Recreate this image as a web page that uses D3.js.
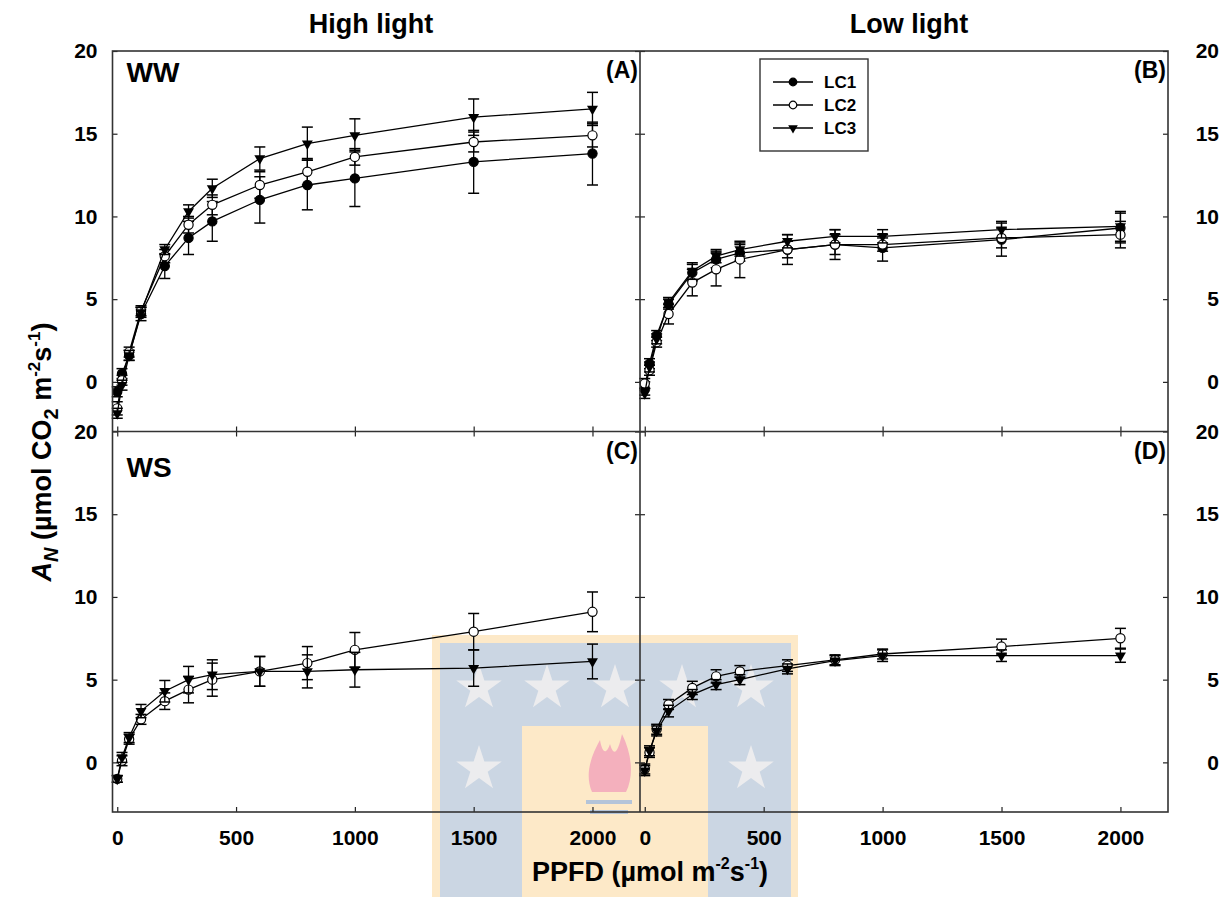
<!DOCTYPE html>
<html>
<head>
<meta charset="utf-8">
<script src="https://cdn.jsdelivr.net/npm/d3@7"></script>
<style>
  body { margin: 0; background: #fff; }
  svg { display: block; font-family: "Liberation Sans", Arial, sans-serif; font-weight: bold; }
</style>
</head>
<body>
<svg id="chart" width="1232" height="897"></svg>
<script>
"use strict";

// light levels (PPFD, umol m-2 s-1)
const ppfd = [0, 20, 50, 100, 200, 300, 400, 600, 800, 1000, 1500, 2000];
const xTicks = [0, 500, 1000, 1500, 2000];
const yTicks = [0, 5, 10, 15, 20];
const seriesNames = ["LC1", "LC2", "LC3"];

// (A) WW, high light
const wwHighLC1 = [-0.6, 0.5, 1.6, 4.1, 7.0, 8.7, 9.7, 11.0, 11.9, 12.3, 13.3, 13.8];
const wwHighLC1Err = [0.3, 0.3, 0.3, 0.4, 0.75, 1.0, 1.2, 1.4, 1.5, 1.7, 1.9, 1.9];
const wwHighLC2 = [-1.6, 0.1, 1.8, 4.3, 7.6, 9.5, 10.7, 11.9, 12.7, 13.6, 14.5, 14.9];
const wwHighLC2Err = [0.4, 0.3, 0.3, 0.3, 0.4, 0.5, 0.6, 0.8, 0.8, 0.5, 0.6, 0.7];
const wwHighLC3 = [-1.9, -0.2, 1.6, 4.2, 8.0, 10.3, 11.7, 13.5, 14.4, 14.9, 16.0, 16.5];
const wwHighLC3Err = [0.3, 0.3, 0.3, 0.3, 0.3, 0.4, 0.55, 0.7, 1.0, 1.0, 1.1, 1.0];

// (B) WW, low light
const wwLowLC1 = [-0.4, 1.1, 2.8, 4.7, 6.6, 7.4, 7.8, 8.0, 8.3, 8.1, 8.6, 9.3];
const wwLowLC1Err = [0.4, 0.3, 0.3, 0.3, 0.5, 0.5, 0.5, 0.5, 0.6, 0.8, 1.0, 0.9];
const wwLowLC2 = [-0.1, 0.7, 2.4, 4.1, 6.0, 6.8, 7.4, 8.0, 8.3, 8.3, 8.7, 8.9];
const wwLowLC2Err = [0.3, 0.3, 0.3, 0.6, 0.8, 1.0, 1.1, 0.9, 0.9, 0.4, 0.6, 0.8];
const wwLowLC3 = [-0.7, 0.9, 2.6, 4.8, 6.7, 7.6, 8.0, 8.5, 8.8, 8.8, 9.2, 9.4];
const wwLowLC3Err = [0.3, 0.3, 0.3, 0.3, 0.5, 0.4, 0.4, 0.4, 0.4, 0.4, 0.5, 0.9];

// (C) WS, high light
const wsHighLC2 = [-1.0, 0.1, 1.4, 2.6, 3.7, 4.4, 5.0, 5.5, 6.0, 6.8, 7.9, 9.1];
const wsHighLC2Err = [0.2, 0.3, 0.3, 0.3, 0.5, 0.8, 1.0, 0.9, 1.0, 1.05, 1.1, 1.2];
const wsHighLC3 = [-1.0, 0.3, 1.5, 3.1, 4.3, 5.0, 5.3, 5.5, 5.5, 5.6, 5.7, 6.1];
const wsHighLC3Err = [0.2, 0.3, 0.3, 0.4, 0.65, 0.8, 0.9, 0.9, 1.0, 1.05, 1.1, 1.05];

// (D) WS, low light
const wsLowLC2 = [-0.4, 0.6, 2.0, 3.5, 4.5, 5.2, 5.5, 5.85, 6.2, 6.55, 7.0, 7.5];
const wsLowLC2Err = [0.3, 0.3, 0.3, 0.3, 0.4, 0.4, 0.35, 0.35, 0.3, 0.3, 0.45, 0.6];
const wsLowLC3 = [-0.5, 0.7, 1.9, 3.1, 4.1, 4.7, 5.0, 5.65, 6.15, 6.45, 6.45, 6.45];
const wsLowLC3Err = [0.3, 0.3, 0.3, 0.35, 0.3, 0.3, 0.3, 0.3, 0.3, 0.35, 0.35, 0.4];

const svg = d3.select("#chart");

// frame edges
const fLeft = 112.5, fMid = 640, fRight = 1168;
const fTop = 51, fMidY = 431.5, fBottom = 812;

// --- faint logo watermark (background) ---
function drawWatermark() {
	let wm = svg.append("g").attr("class", "watermark");
	wm.append("rect").attr("x", 432).attr("y", 635).attr("width", 366).attr("height", 270).attr("fill", "#fde9c8");
	wm.append("rect").attr("x", 440).attr("y", 643).attr("width", 351).attr("height", 260).attr("fill", "#cbd6e3");
	wm.append("rect").attr("x", 522).attr("y", 726).attr("width", 186).attr("height", 175).attr("fill", "#fde9c8");
	let star = d3.symbol(d3.symbolStar, 640);
	let stars = [[479, 688], [547, 688], [615, 688], [682, 688], [751, 688], [479, 769], [751, 769]];
	wm.selectAll(".star").data(stars).enter()
		.append("path").attr("class", "star")
		.attr("d", star)
		.attr("transform", d => `translate(${d[0]},${d[1]})`)
		.attr("fill", "#ececee");
	wm.append("path")
		.attr("d", "M592,792 C584,774 592,754 600,740 C602,752 606,756 610,744 C614,758 618,752 622,734 C632,754 634,776 626,792 Z")
		.attr("fill", "#f4b0bd");
	wm.append("rect").attr("x", 586).attr("y", 800).attr("width", 46).attr("height", 4).attr("fill", "#b4c4d9");
	wm.append("rect").attr("x", 590).attr("y", 810).attr("width", 38).attr("height", 4).attr("fill", "#b4c4d9");
}
drawWatermark();

const panels = [
	{ tag: "(A)", cond: "WW", x0: fLeft, x1: fMid, y0: fTop, y1: fMidY, labelLeft: true, labelBottom: false,
	  series: [[wwHighLC1, wwHighLC1Err, "LC1"], [wwHighLC2, wwHighLC2Err, "LC2"], [wwHighLC3, wwHighLC3Err, "LC3"]] },
	{ tag: "(B)", cond: null, x0: fMid, x1: fRight, y0: fTop, y1: fMidY, labelLeft: false, labelBottom: false,
	  series: [[wwLowLC1, wwLowLC1Err, "LC1"], [wwLowLC2, wwLowLC2Err, "LC2"], [wwLowLC3, wwLowLC3Err, "LC3"]] },
	{ tag: "(C)", cond: "WS", x0: fLeft, x1: fMid, y0: fMidY, y1: fBottom, labelLeft: true, labelBottom: true,
	  series: [[wsHighLC2, wsHighLC2Err, "LC2"], [wsHighLC3, wsHighLC3Err, "LC3"]] },
	{ tag: "(D)", cond: null, x0: fMid, x1: fRight, y0: fMidY, y1: fBottom, labelLeft: false, labelBottom: true,
	  series: [[wsLowLC2, wsLowLC2Err, "LC2"], [wsLowLC3, wsLowLC3Err, "LC3"]] }
];

const tri = d3.symbol(d3.symbolTriangle, 52);
const triSmall = d3.symbol(d3.symbolTriangle, 40);

function drawMarker(sel, name, small) {
	if (name === "LC3") {
		sel.append("path")
			.attr("d", small ? triSmall : tri)
			.attr("transform", "rotate(180)")
			.attr("fill", "#000");
	} else {
		sel.append("circle")
			.attr("r", small ? 3.8 : 4.6)
			.attr("fill", name === "LC1" ? "#000" : "#fff")
			.attr("stroke", "#000")
			.attr("stroke-width", 1.2);
	}
}

const tickFont = "21px";

for (let p of panels) {
	let x = d3.scaleLinear().domain([-20, 2200]).range([p.x0, p.x1]);
	let y = d3.scaleLinear().domain([-3, 20]).range([p.y1, p.y0]);
	let g = svg.append("g").attr("class", "panel");

	// bottom ticks (inward) with labels only on lower panels
	g.append("g")
		.attr("transform", `translate(0,${p.y1})`)
		.call(d3.axisBottom(x).tickValues(xTicks).tickSize(-5).tickPadding(18)
			.tickFormat(p.labelBottom ? d3.format("d") : ""));
	// top ticks on the lower panels (shared divider)
	if (p.y0 !== fTop) {
		g.append("g")
			.attr("transform", `translate(0,${p.y0})`)
			.call(d3.axisTop(x).tickValues(xTicks).tickSize(-5).tickFormat(""));
	}
	// left / right ticks
	g.append("g")
		.attr("transform", `translate(${p.x0},0)`)
		.call(d3.axisLeft(y).tickValues(yTicks).tickSize(-5).tickPadding(15)
			.tickFormat(p.labelLeft ? d3.format("d") : ""));
	let yr = g.append("g")
		.attr("transform", `translate(${p.x1},0)`)
		.call(d3.axisRight(y).tickValues(yTicks).tickSize(-5)
			.tickFormat(p.labelLeft ? "" : d3.format("d")));
	yr.selectAll("text").attr("text-anchor", "end").attr("x", 51);

	g.selectAll(".domain").remove();
	g.selectAll(".tick line").attr("stroke", "#222").attr("stroke-width", 1.2);
	g.selectAll(".tick text")
		.attr("fill", "#000")
		.style("font-size", tickFont)
		.style("font-weight", "bold")
		.style("font-family", "'Liberation Sans', Arial, sans-serif");

	// data
	let line = d3.line().x(d => x(d[0])).y(d => y(d[1]));
	for (let s of p.series) {
		let vals = s[0], errs = s[1], name = s[2];
		let pts = ppfd.map((v, i) => [v, vals[i], errs[i]]);
		let sg = g.append("g").attr("class", "series " + name);
		sg.append("path")
			.datum(pts)
			.attr("d", line)
			.attr("fill", "none")
			.attr("stroke", "#000")
			.attr("stroke-width", 1.3);
		let eb = sg.selectAll(".err").data(pts).enter().append("g").attr("class", "err");
		eb.append("line")
			.attr("x1", d => x(d[0])).attr("x2", d => x(d[0]))
			.attr("y1", d => y(d[1] - d[2])).attr("y2", d => y(d[1] + d[2]))
			.attr("stroke", "#000").attr("stroke-width", 1.3);
		for (let sign of [-1, 1]) {
			eb.append("line")
				.attr("x1", d => x(d[0]) - 5.5).attr("x2", d => x(d[0]) + 5.5)
				.attr("y1", d => y(d[1] + sign * d[2])).attr("y2", d => y(d[1] + sign * d[2]))
				.attr("stroke", "#000").attr("stroke-width", 1.5);
		}
		let mk = sg.selectAll(".mk").data(pts).enter()
			.append("g").attr("class", "mk")
			.attr("transform", d => `translate(${x(d[0])},${y(d[1])})`);
		mk.each(function () { drawMarker(d3.select(this), name, false); });
	}

	// panel tags
	g.append("text")
		.attr("x", p.x1 - 2)
		.attr("y", p.y0 + 27)
		.attr("text-anchor", "end")
		.style("font-size", "23px")
		.text(p.tag);
	if (p.cond) {
		g.append("text")
			.attr("x", p.x0 + 14)
			.attr("y", p.y0 + (p.y0 === fTop ? 31 : 45))
			.style("font-size", "28px")
			.text(p.cond);
	}
}

// frames
svg.append("rect")
	.attr("x", fLeft).attr("y", fTop)
	.attr("width", fRight - fLeft).attr("height", fBottom - fTop)
	.attr("fill", "none").attr("stroke", "#333").attr("stroke-width", 1.6);
svg.append("line")
	.attr("x1", fMid).attr("x2", fMid).attr("y1", fTop).attr("y2", fBottom)
	.attr("stroke", "#333").attr("stroke-width", 1.6);
svg.append("line")
	.attr("x1", fLeft).attr("x2", fRight).attr("y1", fMidY).attr("y2", fMidY)
	.attr("stroke", "#333").attr("stroke-width", 1.6);

// column titles
svg.append("text").attr("x", 371).attr("y", 33).attr("text-anchor", "middle")
	.style("font-size", "27px").text("High light");
svg.append("text").attr("x", 909).attr("y", 33).attr("text-anchor", "middle")
	.style("font-size", "27px").text("Low light");

// legend
let lg = svg.append("g").attr("class", "legend");
lg.append("rect")
	.attr("x", 760).attr("y", 59).attr("width", 108).attr("height", 92)
	.attr("fill", "#fff").attr("stroke", "#333").attr("stroke-width", 1.4);
let legendY = d3.scalePoint().domain(seriesNames).range([82, 128]);
let items = lg.selectAll(".item").data(seriesNames).enter()
	.append("g").attr("class", "item")
	.attr("transform", d => `translate(0,${legendY(d)})`);
items.append("line").attr("x1", 773).attr("x2", 813).attr("stroke", "#000").attr("stroke-width", 1.3);
items.each(function (d) {
	let m = d3.select(this).append("g").attr("transform", "translate(793,0)");
	drawMarker(m, d, true);
});
items.append("text")
	.attr("x", 824).attr("y", 6)
	.style("font-size", "17px")
	.text(d => d);

// axis titles
let yl = svg.append("text")
	.attr("transform", "translate(51,452) rotate(-90)")
	.attr("text-anchor", "middle")
	.style("font-size", "27px");
yl.append("tspan").style("font-style", "italic").text("A");
yl.append("tspan").style("font-style", "italic").style("font-size", "20px").attr("dy", 7).text("N");
yl.append("tspan").attr("dy", -7).text(" (\u00b5mol CO");
yl.append("tspan").style("font-size", "20px").attr("dy", 7).text("2");
yl.append("tspan").attr("dy", -7).text(" m");
yl.append("tspan").style("font-size", "17px").attr("dy", -11).text("-2");
yl.append("tspan").attr("dy", 11).text("s");
yl.append("tspan").style("font-size", "17px").attr("dy", -11).text("-1");
yl.append("tspan").attr("dy", 11).text(")");

let xl = svg.append("text")
	.attr("x", 650).attr("y", 881)
	.attr("text-anchor", "middle")
	.style("font-size", "27px");
xl.append("tspan").text("PPFD (\u00b5mol m");
xl.append("tspan").style("font-size", "16px").attr("dy", -12).text("-2");
xl.append("tspan").attr("dy", 12).text("s");
xl.append("tspan").style("font-size", "16px").attr("dy", -12).text("-1");
xl.append("tspan").attr("dy", 12).text(")");
</script>
</body>
</html>
